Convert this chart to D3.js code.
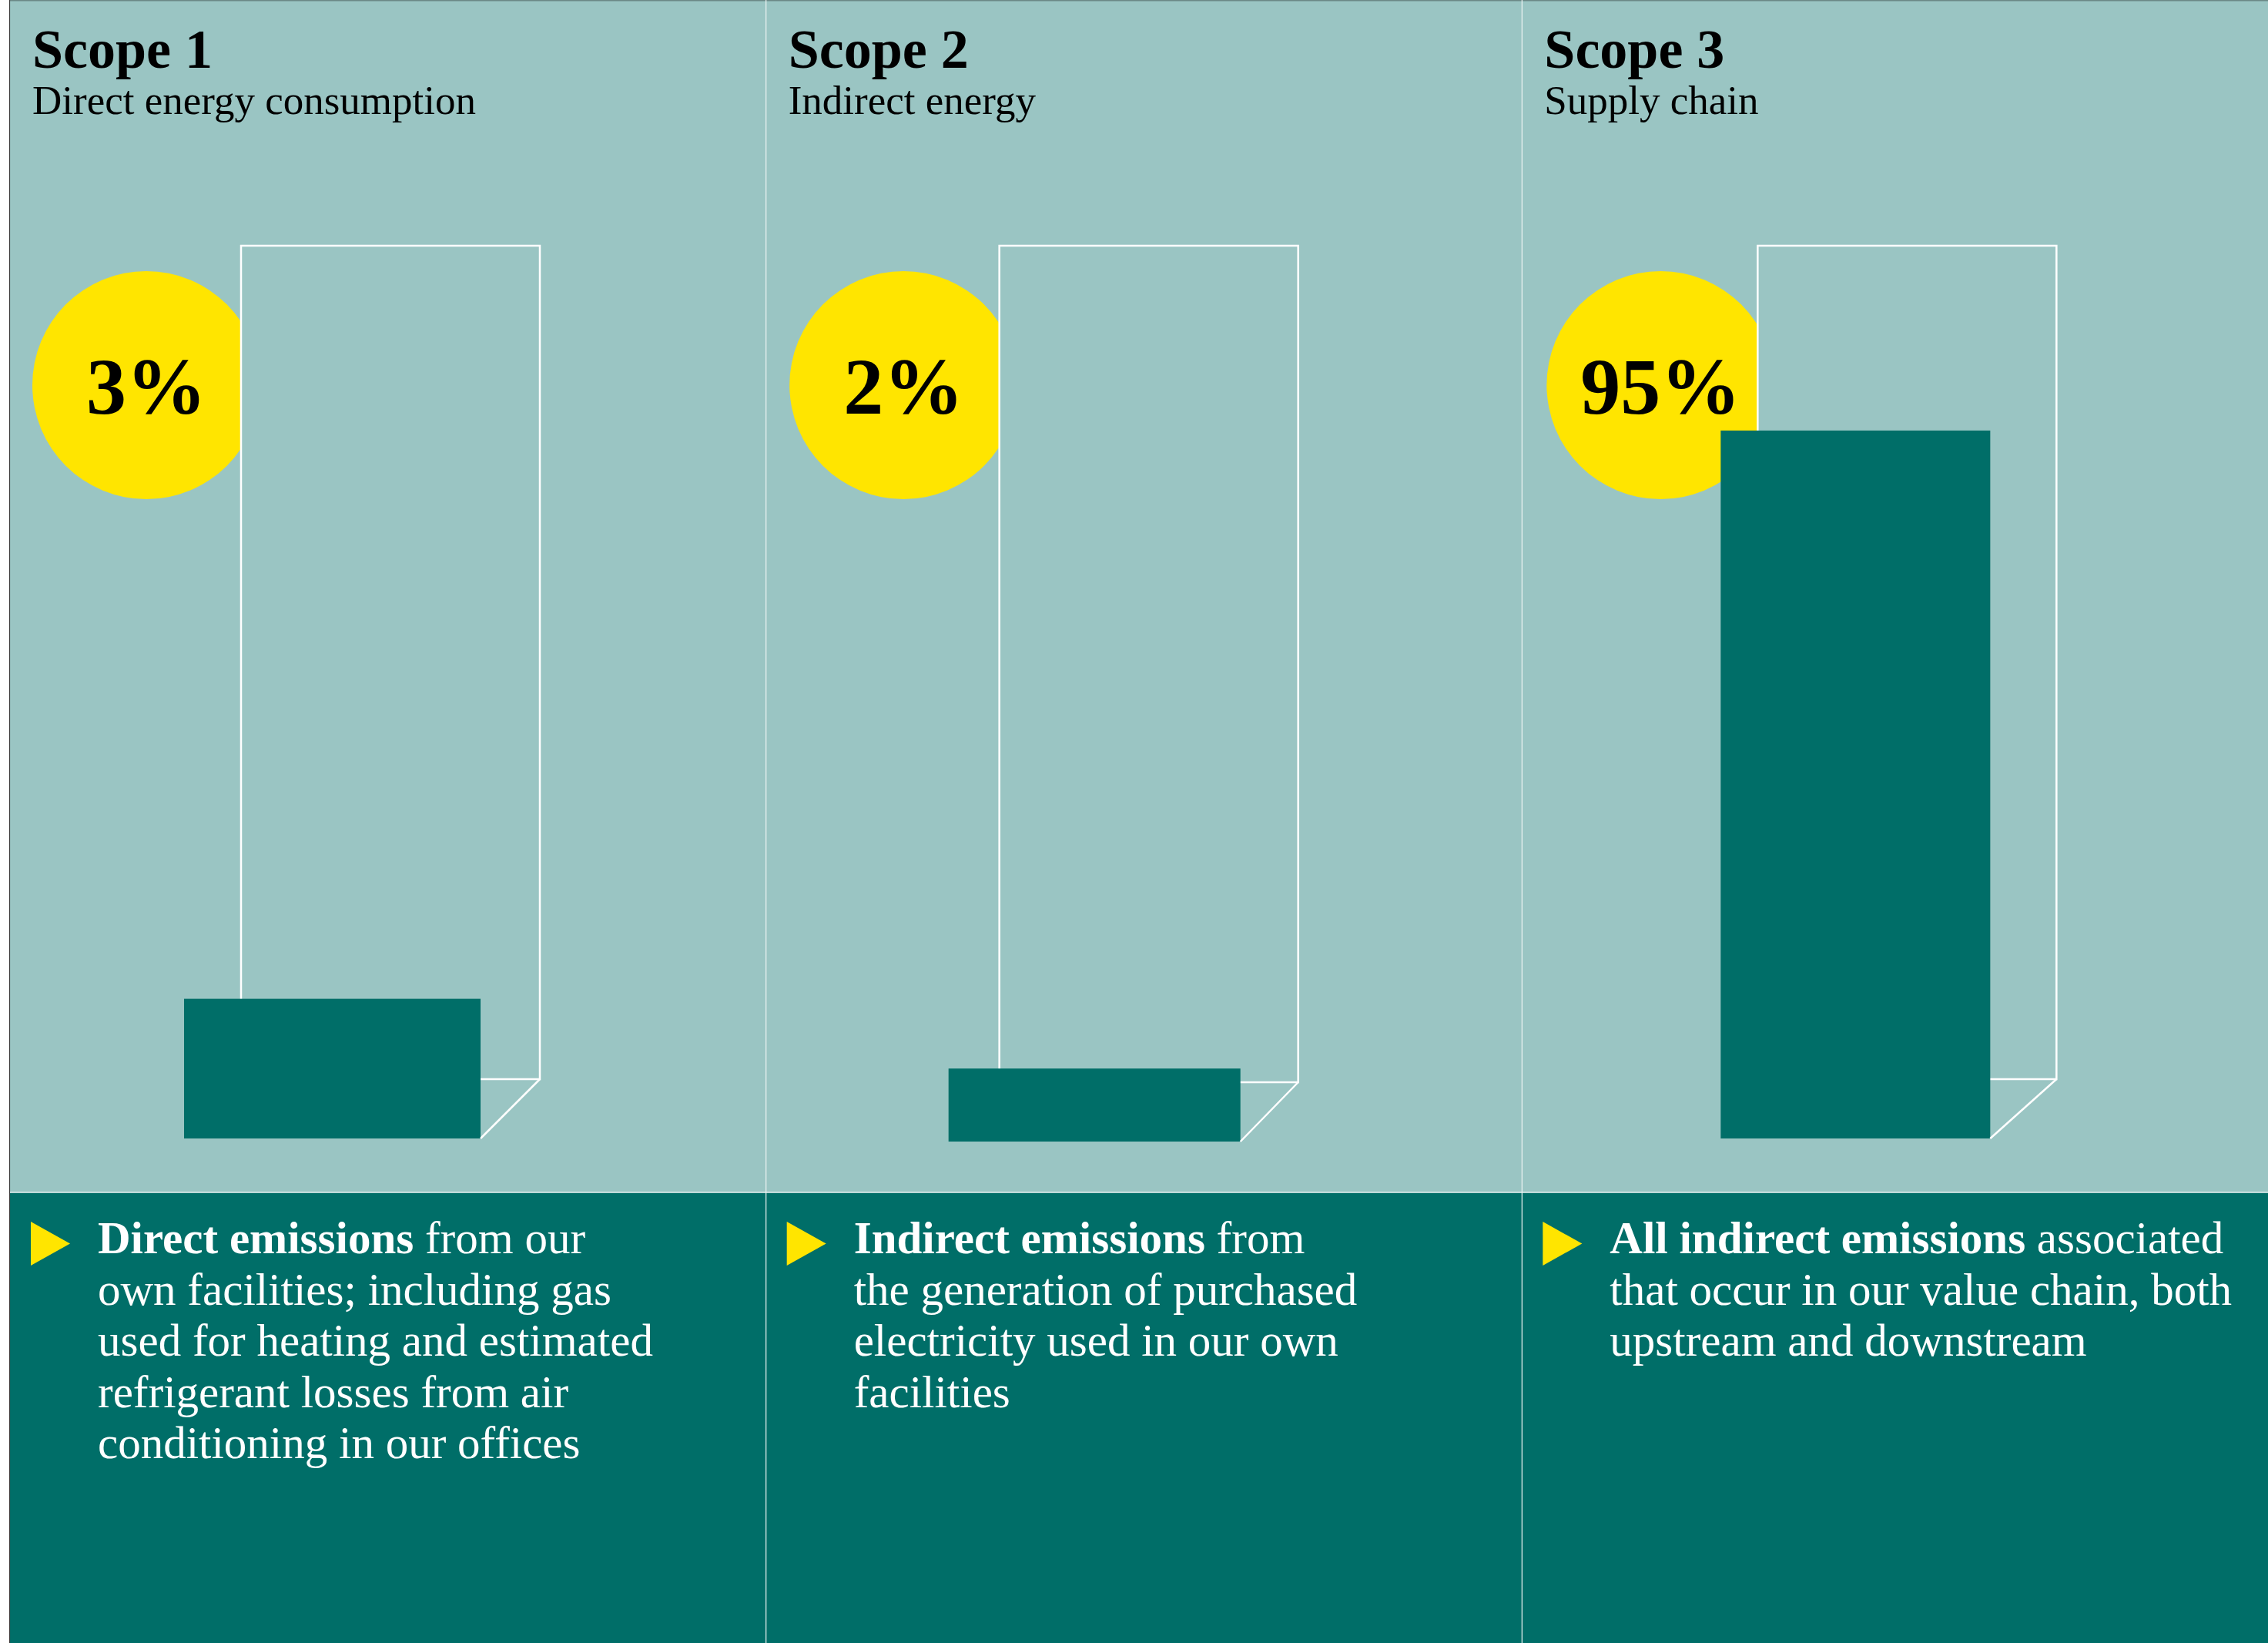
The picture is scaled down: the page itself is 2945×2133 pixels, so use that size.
<!DOCTYPE html>
<html lang="en">
<head>
<meta charset="UTF-8">
<title>Scope 1, 2 and 3 emissions</title>
<script src="https://d3js.org/d3.v7.min.js"></script>
<style>
  body { margin: 0; background: #fff; }
  svg { display: block; }
  text { font-family: "Liberation Serif", "Times New Roman", serif; }
</style>
</head>
<body>
<div id="chart"></div>
<script>
// data
const scopes = ["Scope 1", "Scope 2", "Scope 3"];
const subtitles = ["Direct energy consumption", "Indirect energy", "Supply chain"];
const shares = [3, 2, 95];
const leads = ["Direct emissions", "Indirect emissions", "All indirect emissions"];
const bodyLines = [
  [" from our", "own facilities; including gas", "used for heating and estimated",
   "refrigerant losses from air", "conditioning in our offices"],
  [" from", "the generation of purchased", "electricity used in our own", "facilities"],
  [" associated", "that occur in our value chain, both", "upstream and downstream"]
];

// layout (drawing only, not data)
const W = 2945, H = 2133;
const splitY = 1548;
const light = "#9ac5c3", dark = "#006e68", yellow = "#ffe500";
const boxX = 300, boxTop = 319, boxW = 388, boxBottom = 1401;
const boxShiftX = [0, 3, 6];
const boxNudge = [0, 4, 0];
const barInL = [-74, -66, -48];   // bar left relative to box left
const barInR = [-77, -75, -86];   // bar right relative to box right
const drop = 77;                  // bar front sits below/left of box

const svg = d3.select("#chart").append("svg")
    .attr("width", W)
    .attr("height", H);

const x = d3.scaleBand().domain(scopes).range([13, 2958]);
const h = d3.scaleLog().domain([1.283, 100]).range([0, 930]);

// backgrounds
svg.append("rect").attr("x", 13).attr("y", 0)
    .attr("width", W - 13).attr("height", splitY).attr("fill", light);
svg.append("rect").attr("x", 13).attr("y", splitY)
    .attr("width", W - 13).attr("height", H - splitY).attr("fill", dark);

const panels = svg.selectAll("g.panel")
    .data(scopes)
    .enter()
    .append("g")
    .attr("class", "panel")
    .attr("transform", d => `translate(${x(d)},0)`);

// yellow circle, then the box drawn over it
panels.append("circle")
    .attr("cx", (d, i) => 177 + boxShiftX[i] / 2).attr("cy", 500).attr("r", 148)
    .attr("fill", yellow);

panels.append("rect")
    .attr("x", (d, i) => boxX + boxShiftX[i])
    .attr("y", boxTop)
    .attr("width", boxW)
    .attr("height", (d, i) => boxBottom + boxNudge[i] - boxTop)
    .attr("fill", light)
    .attr("stroke", "#fff")
    .attr("stroke-width", 2.5);

// bars
panels.append("rect")
    .attr("x", (d, i) => boxX + boxShiftX[i] + barInL[i])
    .attr("y", (d, i) => boxBottom + boxNudge[i] + drop - h(shares[i]))
    .attr("width", (d, i) => boxW + barInR[i] - barInL[i])
    .attr("height", (d, i) => h(shares[i]))
    .attr("fill", dark);

panels.append("line")
    .attr("x1", (d, i) => boxX + boxShiftX[i] + boxW)
    .attr("y1", (d, i) => boxBottom + boxNudge[i])
    .attr("x2", (d, i) => boxX + boxShiftX[i] + boxW + barInR[i])
    .attr("y2", (d, i) => boxBottom + boxNudge[i] + drop)
    .attr("stroke", "#fff")
    .attr("stroke-width", 2.5);

panels.append("text")
    .attr("x", (d, i) => 177 + boxShiftX[i] / 2).attr("y", 537)
    .attr("text-anchor", "middle")
    .attr("font-size", 104)
    .attr("font-weight", 900)
    .attr("fill", "#000")
    .text((d, i) => shares[i] + "%");

// headings
panels.append("text")
    .attr("x", 29).attr("y", 88)
    .attr("font-size", 72)
    .attr("font-weight", 700)
    .attr("fill", "#000")
    .text(d => d);

panels.append("text")
    .attr("x", 29).attr("y", 148)
    .attr("font-size", 53)
    .attr("fill", "#000")
    .text((d, i) => subtitles[i]);

// descriptions
panels.append("path")
    .attr("d", "M27,1586L27,1643L78,1614.5Z")
    .attr("fill", yellow);

const desc = panels.append("text")
    .attr("font-size", 59)
    .attr("fill", "#fff");

desc.each(function (d, i) {
    const t = d3.select(this);
    bodyLines[i].forEach((line, j) => {
        if (j === 0) {
            t.append("tspan")
                .attr("x", 114).attr("y", 1627)
                .attr("font-weight", 700)
                .text(leads[i]);
            t.append("tspan").text(line);
        } else {
            t.append("tspan")
                .attr("x", 114).attr("y", 1627 + j * 66.5)
                .text(line);
        }
    });
});

// rules
svg.append("line").attr("x1", 13).attr("x2", W).attr("y1", 0.75).attr("y2", 0.75)
    .attr("stroke", "#6b8886").attr("stroke-width", 1.5);
svg.append("line").attr("x1", 12.5).attr("x2", 12.5).attr("y1", 0).attr("y2", H)
    .attr("stroke", "#3a3a3a").attr("stroke-width", 1.2);
svg.append("line").attr("x1", 13).attr("x2", W).attr("y1", splitY).attr("y2", splitY)
    .attr("stroke", "#eef5f4").attr("stroke-width", 1.5);
svg.selectAll("line.divider")
    .data(scopes.slice(1))
    .enter()
    .append("line")
    .attr("class", "divider")
    .attr("x1", d => x(d)).attr("x2", d => x(d))
    .attr("y1", 0).attr("y2", H)
    .attr("stroke", "#eef5f4")
    .attr("stroke-width", 1.2);
</script>
</body>
</html>
